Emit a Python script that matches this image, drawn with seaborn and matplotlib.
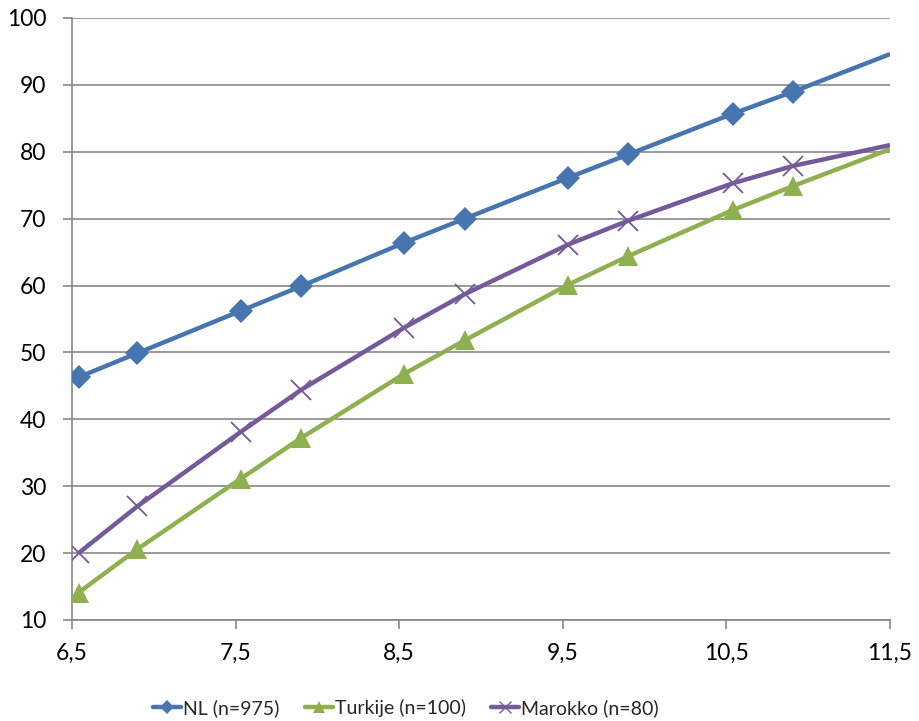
import matplotlib
matplotlib.use("Agg")
import matplotlib.pyplot as plt
import matplotlib.ticker as mticker
import seaborn as sns
import pandas as pd

# ---- data ----
x_age = [6.54, 6.9, 7.53, 7.9, 8.53, 8.9, 9.53, 9.9, 10.54, 10.91, 11.5]
nl = [46.3, 49.9, 56.2, 59.9, 66.4, 70.0, 76.1, 79.6, 85.7, 89.0, 94.6]
turkije = [14.1, 20.6, 31.1, 37.2, 46.8, 51.8, 60.1, 64.4, 71.3, 74.9, 80.4]
marokko = [20.0, 27.0, 38.1, 44.4, 53.7, 58.7, 66.1, 69.7, 75.3, 77.9, 81.0]
series_names = ["NL (n=975)", "Turkije (n=100)", "Marokko (n=80)"]
x_ticks = [6.5, 7.5, 8.5, 9.5, 10.5, 11.5]
y_ticks = [10, 20, 30, 40, 50, 60, 70, 80, 90, 100]

colors = ["#4675B0", "#8FB04F", "#74599B"]
markers = ["D", "^", "x"]
msizes = [12, 14, 14]

df = pd.concat([
    pd.DataFrame({"x": x_age, "y": vals, "serie": name})
    for name, vals in zip(series_names, [nl, turkije, marokko])
])

sns.set_theme(style="white")
plt.rcParams["font.family"] = ["Lato", "DejaVu Sans"]

fig = plt.figure(figsize=(9.19, 7.21), dpi=100)
ax = fig.add_axes([72 / 919, 1 - 620 / 721, (890 - 72) / 919, (620 - 18) / 721])

grid_c = "#878787"
for yv in y_ticks:
    ax.axhline(yv, color=grid_c, lw=1.2, zorder=0)

handles = []
for name, c, m, ms in zip(series_names, colors, markers, msizes):
    sub = df[df["serie"] == name]
    sns.lineplot(data=sub, x="x", y="y", ax=ax, color=c, lw=3.2, zorder=3,
                 marker=m, markersize=ms, markeredgewidth=(1.3 if m == "x" else 0),
                 markeredgecolor=c, legend=False, sort=False)
    ln = ax.get_lines()[-1]
    ln.set_markevery(list(range(len(x_age) - 1)))
    ln.set_solid_capstyle("butt")
    h = plt.Line2D([], [], color=c, lw=3.2, marker=m, markersize=ms * 0.6,
                   markeredgewidth=(1.0 if m == "x" else 0), markeredgecolor=c,
                   solid_capstyle="round")
    handles.append(h)

ax.set_xlim(6.5, 11.5)
ax.set_ylim(10, 100)
ax.set_xticks(x_ticks)
ax.set_yticks(y_ticks)
fmt = mticker.FuncFormatter(lambda v, p: (f"{v:.1f}".replace(".", ",")))
ax.xaxis.set_major_formatter(fmt)
ax.yaxis.set_major_formatter(mticker.FuncFormatter(lambda v, p: f"{int(v)}"))
ax.set_xlabel("")
ax.set_ylabel("")

for s in ["top", "right"]:
    ax.spines[s].set_visible(False)
for s in ["left", "bottom"]:
    ax.spines[s].set_color(grid_c)
    ax.spines[s].set_linewidth(1.2)
ax.tick_params(axis="both", which="major", direction="out", length=6.5, width=1.2,
               color=grid_c, labelsize=16.5, labelcolor="black")
ax.tick_params(axis="y", pad=12)
ax.tick_params(axis="x", pad=10)
ax.xaxis.set_ticks_position("bottom")
ax.yaxis.set_ticks_position("left")

fig.legend(handles, series_names, loc="center", bbox_to_anchor=(406 / 919, 1 - 708 / 721),
           ncol=3, frameon=False, fontsize=14, handlelength=1.45, handletextpad=0.1,
           columnspacing=1.3, numpoints=1, borderaxespad=0)

fig.savefig("out.png", dpi=100)
